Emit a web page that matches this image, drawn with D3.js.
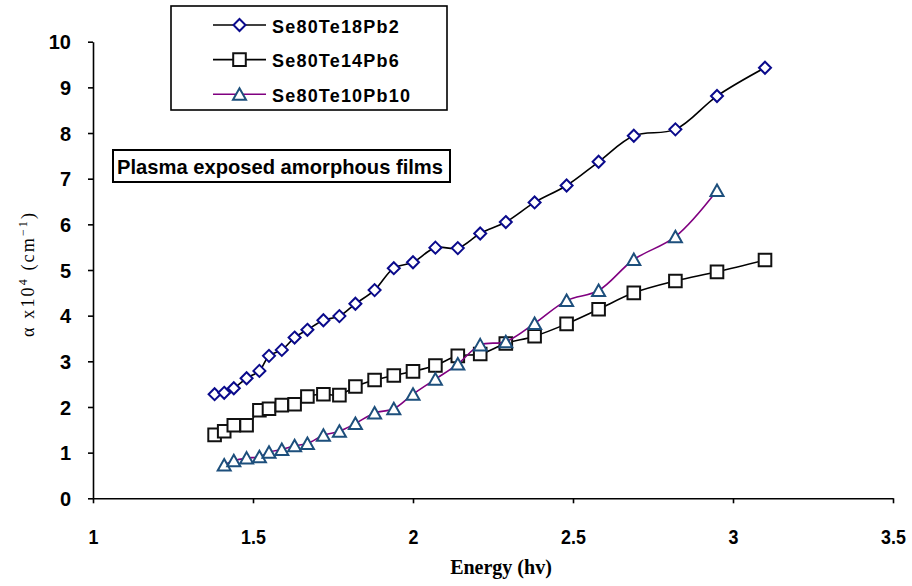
<!DOCTYPE html>
<html>
<head>
<meta charset="utf-8">
<script src="https://cdn.jsdelivr.net/npm/d3@7"></script>
<style>
    body { margin: 0; background: white; }
    svg { display: block; }
</style>
</head>
<body>
<div id="container"></div>
<script>
/* CONSTANTS AND GLOBALS */
const width = 912,
    height = 586

// DATA
const energy = [1.38, 1.41, 1.44, 1.48, 1.52, 1.55, 1.59, 1.63, 1.67, 1.72, 1.77, 1.82, 1.88,
    1.94, 2.00, 2.07, 2.14, 2.21, 2.29, 2.38, 2.48, 2.58, 2.69, 2.82, 2.95, 3.10]
const energyPb10 = [1.41, 1.44, 1.48, 1.52, 1.55, 1.59, 1.63, 1.67, 1.72, 1.77, 1.82, 1.88,
    1.94, 2.00, 2.07, 2.14, 2.21, 2.29, 2.38, 2.48, 2.58, 2.69, 2.82, 2.95]
const alphaPb2 = [2.28, 2.31, 2.41, 2.63, 2.79, 3.12, 3.25, 3.52, 3.69, 3.90, 3.99, 4.26, 4.56,
    5.04, 5.17, 5.49, 5.48, 5.80, 6.05, 6.48, 6.85, 7.37, 7.94, 8.08, 8.81, 9.43]
const alphaPb6 = [1.39, 1.47, 1.60, 1.60, 1.93, 1.96, 2.04, 2.06, 2.23, 2.28, 2.26, 2.45, 2.59,
    2.69, 2.78, 2.91, 3.12, 3.16, 3.39, 3.55, 3.82, 4.14, 4.50, 4.76, 4.96, 5.22]
const alphaPb10 = [0.73, 0.82, 0.88, 0.91, 1.01, 1.07, 1.15, 1.20, 1.38, 1.47, 1.64, 1.87,
    1.96, 2.28, 2.61, 2.94, 3.36, 3.43, 3.83, 4.33, 4.55, 5.23, 5.73, 6.74]
const seriesNames = ["Se80Te18Pb2", "Se80Te14Pb6", "Se80Te10Pb10"]
const xTicks = [1, 1.5, 2, 2.5, 3, 3.5]
const yTicks = [0, 1, 2, 3, 4, 5, 6, 7, 8, 9, 10]

const series = [
    { name: seriesNames[0], xs: energy, ys: alphaPb2, marker: "diamond", line: "#000000", stroke: "#0a0a8c" },
    { name: seriesNames[1], xs: energy, ys: alphaPb6, marker: "square", line: "#000000", stroke: "#111111" },
    { name: seriesNames[2], xs: energyPb10, ys: alphaPb10, marker: "triangle", line: "#800080", stroke: "#1d4f7c" }
]

//SCALES
const xScale = d3.scaleLinear()
    .domain([1, 3.5])
    .range([93, 893])

const yScale = d3.scaleLinear()
    .domain([0, 10])
    .range([498.3, 41.7])

//SVG
const svg = d3.select("#container")
    .append("svg")
    .attr("width", width)
    .attr("height", height)
    .style("background-color", "white")

// marker shapes drawn around a point
function markerPath(type, x, y) {
    if (type === "diamond") {
        const r = 6
        return `M${x},${y - r}L${x + r},${y}L${x},${y + r}L${x - r},${y}Z`
    }
    if (type === "square") {
        const r = 6.3
        return `M${x - r},${y - r}H${x + r}V${y + r}H${x - r}Z`
    }
    return `M${x},${y - 6}L${x + 6.5},${y + 5.5}L${x - 6.5},${y + 5.5}Z`
}

// AXES
const xAxis = d3.axisBottom(xScale)
    .tickValues(xTicks)
    .tickFormat(d3.format("~g"))
    .tickSizeInner(5)
    .tickSizeOuter(0)
    .tickPadding(26)

const yAxis = d3.axisLeft(yScale)
    .tickValues(yTicks)
    .tickSizeInner(5)
    .tickSizeOuter(0)
    .tickPadding(17)

const gx = svg.append("g")
    .attr("class", "axis")
    .attr("transform", "translate(0," + yScale(0) + ")")
    .call(xAxis)

gx.selectAll("text")
    .style("font-family", "'Liberation Sans', Arial, sans-serif")
    .style("font-weight", "bold")
    .style("font-size", "21px")
    .attr("fill", "#000")
    .attr("transform", "scale(0.85,1)")

const gy = svg.append("g")
    .attr("class", "axis")
    .attr("transform", "translate(" + xScale(1) + ",0)")
    .call(yAxis)

gy.selectAll("text")
    .style("font-family", "'Liberation Sans', Arial, sans-serif")
    .style("font-weight", "bold")
    .style("font-size", "20px")
    .attr("fill", "#000")
    .attr("dy", "0.36em")

svg.selectAll(".axis path, .axis line")
    .attr("stroke", "#000")
    .attr("stroke-width", 1.6)

// LINES
const line = d3.line()
    .x(d => xScale(d[0]))
    .y(d => yScale(d[1]))
    .curve(d3.curveCatmullRom.alpha(0.5))

series.forEach(s => {
    const pts = s.xs.map((x, i) => [x, s.ys[i]])

    svg.append("path")
        .datum(pts)
        .attr("d", line)
        .attr("fill", "none")
        .attr("stroke", s.line)
        .attr("stroke-width", 1.6)

    svg.append("g")
        .selectAll("path")
        .data(pts)
        .join("path")
        .attr("d", d => markerPath(s.marker, xScale(d[0]), yScale(d[1])))
        .attr("fill", "white")
        .attr("stroke", s.stroke)
        .attr("stroke-width", 2)
})

// LEGEND
const legend = svg.append("g")

legend.append("rect")
    .attr("x", 171)
    .attr("y", 6)
    .attr("width", 276)
    .attr("height", 104)
    .attr("fill", "white")
    .attr("stroke", "#000")
    .attr("stroke-width", 1.6)

const rows = legend.selectAll(".row")
    .data(series)
    .join("g")
    .attr("class", "row")
    .attr("transform", (d, i) => "translate(0," + (25 + i * 34.6) + ")")

rows.append("line")
    .attr("x1", 213)
    .attr("x2", 266)
    .attr("stroke", d => d.line)
    .attr("stroke-width", 1.6)

rows.append("path")
    .attr("d", d => markerPath(d.marker, 239.5, 0))
    .attr("fill", "white")
    .attr("stroke", d => d.stroke)
    .attr("stroke-width", 2)

rows.append("text")
    .attr("x", 272)
    .attr("y", 7.5)
    .style("font-family", "'Liberation Sans', Arial, sans-serif")
    .style("font-weight", "bold")
    .style("font-size", "18px")
    .style("letter-spacing", "1.2px")
    .text(d => d.name)

// ANNOTATION
svg.append("rect")
    .attr("x", 113)
    .attr("y", 150)
    .attr("width", 337)
    .attr("height", 32)
    .attr("fill", "white")
    .attr("stroke", "#000")
    .attr("stroke-width", 2)

svg.append("text")
    .attr("x", 117)
    .attr("y", 173.5)
    .attr("textLength", 326)
    .attr("lengthAdjust", "spacingAndGlyphs")
    .style("font-family", "'Liberation Sans', Arial, sans-serif")
    .style("font-weight", "bold")
    .style("font-size", "21px")
    .text("Plasma exposed amorphous films")

// LABELS
svg.append("text")
    .attr("x", 501)
    .attr("y", 574)
    .attr("text-anchor", "middle")
    .style("font-family", "'Liberation Serif', 'Times New Roman', serif")
    .style("font-weight", "bold")
    .style("font-size", "20px")
    .text("Energy (hv)")

const yLabel = svg.append("text")
    .attr("transform", "translate(34,275) rotate(-90)")
    .attr("text-anchor", "middle")
    .attr("textLength", 124)
    .attr("lengthAdjust", "spacing")
    .style("font-family", "'Liberation Serif', 'Times New Roman', serif")
    .style("font-size", "18px")

yLabel.append("tspan").text("α x10")
yLabel.append("tspan").attr("dy", -7).style("font-size", "12px").text("4")
yLabel.append("tspan").attr("dy", 7).text(" (cm")
yLabel.append("tspan").attr("dy", -7).style("font-size", "12px").text("−1")
yLabel.append("tspan").attr("dy", 7).text(")")
</script>
</body>
</html>
